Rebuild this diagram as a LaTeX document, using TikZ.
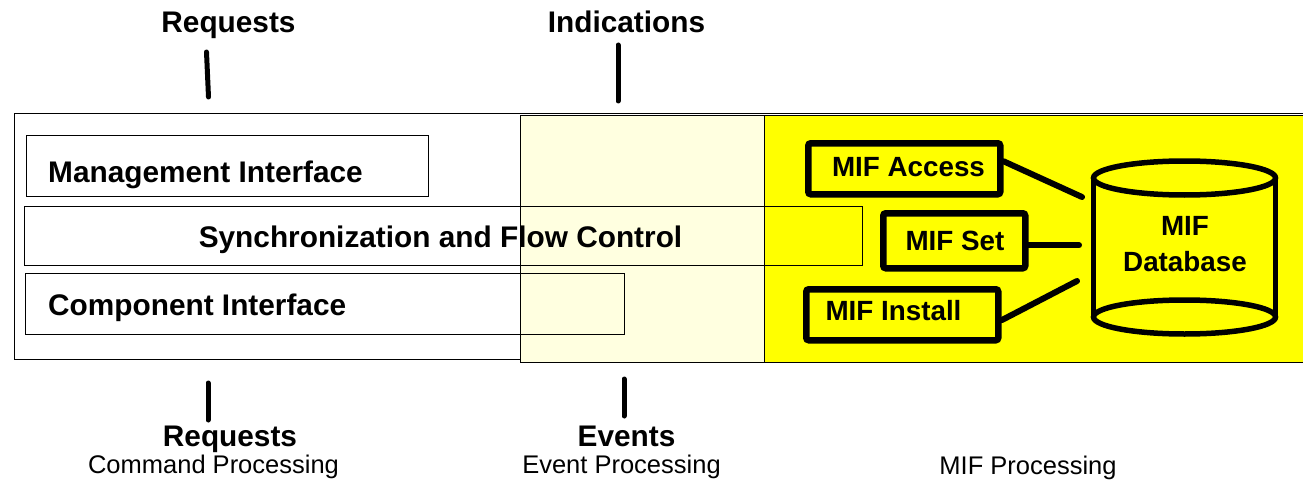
\documentclass[tikz,border=0pt]{standalone}
\usepackage{fontspec}
\setmainfont{Liberation Sans}
\definecolor{paleyellow}{HTML}{FFFFE0}
\definecolor{mifyellow}{HTML}{FFFF00}
\begin{document}
\begin{tikzpicture}[x=1pt,y=-1pt,
  thinbox/.style={draw=black,line width=1.3pt,inner sep=0pt,anchor=north west},
  thickbox/.style={draw=black,line width=6.5pt,rounded corners=2.5pt,inner sep=0pt,anchor=north west,fill=mifyellow},
  boldtxt/.style={font=\fontsize{29.8}{32}\selectfont\bfseries,inner sep=0pt},
  miftxt/.style={font=\fontsize{27.8}{36}\selectfont\bfseries,inner sep=0pt},
  subtxt/.style={font=\fontsize{25.5}{28}\selectfont,inner sep=0pt},
  conn/.style={line width=6pt,line cap=round},
  tickline/.style={line width=5pt,line cap=round},
  cyl/.style={line width=5.5pt}
]
\useasboundingbox (0,0) rectangle (1303,484);
\fill[white] (0,0) rectangle (1303,484);

% areas
\node[thinbox,fill=white,minimum width=1306pt,minimum height=246pt] (outer) at (14,113) {};
\node[thinbox,fill=paleyellow,minimum width=244pt,minimum height=247pt] (evarea) at (520,115) {};
\node[thinbox,fill=mifyellow,minimum width=556pt,minimum height=247pt] (mifarea) at (764,115) {};

% layered boxes
\node[thinbox,minimum width=402pt,minimum height=61pt] (mgmt) at (26,135) {};
\node[thinbox,minimum width=838pt,minimum height=59pt] (sync) at (24,206) {};
\node[thinbox,minimum width=599pt,minimum height=61pt] (comp) at (25,273) {};
\node[boldtxt,anchor=base west] (mgmttxt) at (48,182) {Management Interface};
\node[boldtxt,anchor=base] (synctxt) at (440.5,247) {Synchronization and Flow Control};
\node[boldtxt,anchor=base west] (comptxt) at (48,315) {Component Interface};

% MIF boxes
\node[thickbox,minimum width=192pt,minimum height=51pt] (acc) at (805,140) {};
\node[thickbox,minimum width=142pt,minimum height=55pt] (set) at (880,210) {};
\node[thickbox,minimum width=192pt,minimum height=51pt] (inst) at (803,286) {};
\node[miftxt,anchor=base] (acctxt) at (908.5,176) {MIF Access};
\node[miftxt,anchor=base] (settxt) at (955,250) {MIF Set};
\node[miftxt,anchor=base] (insttxt) at (893.5,320) {MIF Install};

% database cylinder
\fill[mifyellow] (1093.5,178) rectangle (1275.5,317);
\draw[cyl] (1093.5,178) -- (1093.5,317);
\draw[cyl] (1275.5,178) -- (1275.5,317);
\draw[cyl] (1184.5,317) ellipse [x radius=91,y radius=17];
\draw[cyl,fill=mifyellow] (1184.5,178) ellipse [x radius=91,y radius=17];
\node[miftxt,align=center] (db) at (1185,244) {MIF\\Database};

% connectors
\coordinate (accend) at (1082,197);
\coordinate (setstart) at ([yshift=-4.5pt]set.east);
\coordinate (setx) at (1079,0);
\coordinate (setend) at (setstart -| setx);
\coordinate (instend) at (1077,281);
\draw[conn] ([yshift=7.5pt]acc.east) -- (accend);
\draw[conn] (setstart) -- (setend);
\draw[conn] ([yshift=-5.5pt]inst.east) -- (instend);

% top labels and ticks
\node[boldtxt,anchor=base] (reqtop) at (228.5,33) {Requests};
\node[boldtxt,anchor=base] (indtop) at (626.5,33) {Indications};
\coordinate (rt1) at (206.5,52);
\coordinate (rt2) at (208.5,97);
\coordinate (it1) at (618,45);
\coordinate (it2) at (618,101);
\draw[tickline] (rt1) -- (rt2);
\draw[tickline] (it1) -- (it2);

% bottom labels and ticks
\coordinate (rb1) at (208,383);
\coordinate (rb2) at (208,420);
\coordinate (eb1) at (624,379);
\coordinate (eb2) at (624,416);
\draw[tickline] (rb1) -- (rb2);
\draw[tickline] (eb1) -- (eb2);
\node[boldtxt,anchor=base] (reqbot) at (230,446) {Requests};
\node[boldtxt,anchor=base] (evbot) at (626.5,446) {Events};
\node[subtxt,anchor=base] (cmdproc) at (213.5,473) {Command Processing};
\node[subtxt,anchor=base] (evproc) at (621.5,473) {Event Processing};
\node[subtxt,anchor=base] (mifproc) at (1028,474) {MIF Processing};
\end{tikzpicture}
\end{document}
